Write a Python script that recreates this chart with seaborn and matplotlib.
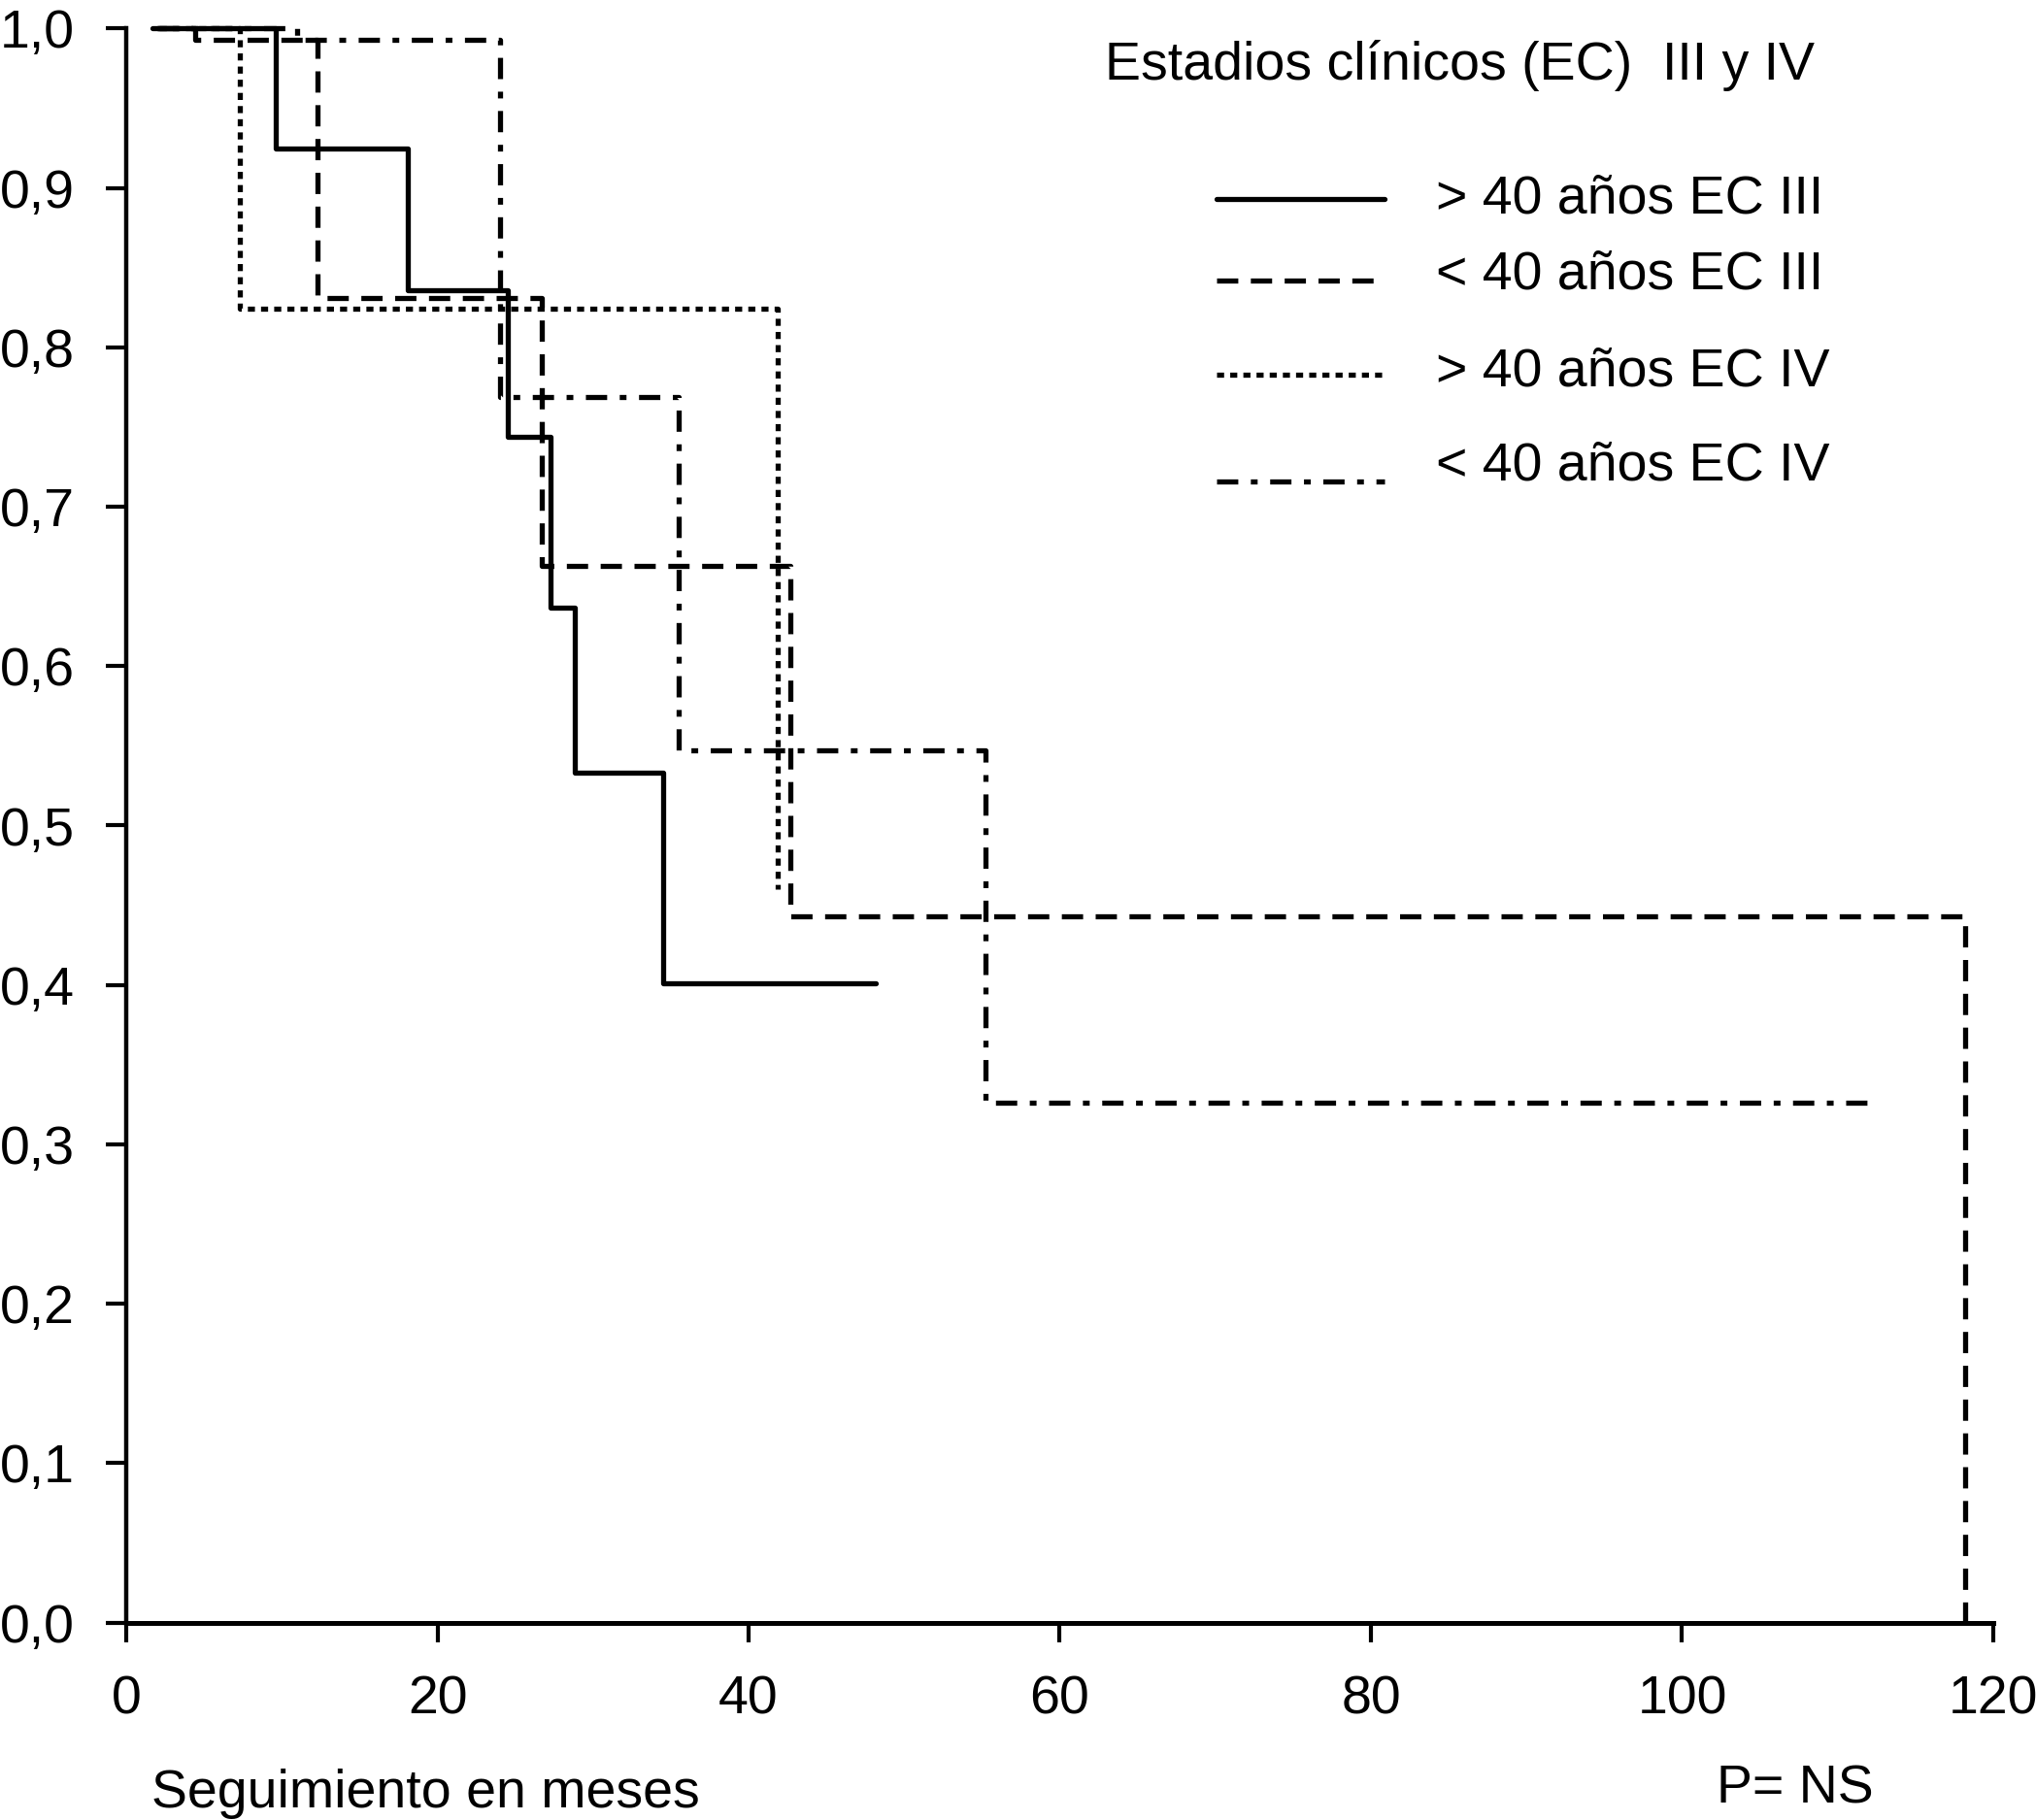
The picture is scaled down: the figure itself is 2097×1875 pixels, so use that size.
import matplotlib
matplotlib.use("Agg")
import matplotlib.pyplot as plt
import seaborn as sns
import pandas as pd

sns.set_theme(style="ticks")
plt.rcParams["font.family"] = ["Liberation Sans", "DejaVu Sans"]
plt.rcParams["text.color"] = "black"
plt.rcParams["axes.labelcolor"] = "black"
plt.rcParams["xtick.color"] = "black"
plt.rcParams["ytick.color"] = "black"

# ---------------- data ----------------
series_labels = ["> 40 años EC III", "< 40 años EC III", "> 40 años EC IV", "< 40 años EC IV"]

t_gt40_iii = [1.7, 9.6, 18.1, 24.5, 27.3, 28.8, 34.5, 48.2]
s_gt40_iii = [1.0, 0.925, 0.836, 0.744, 0.637, 0.533, 0.401, 0.401]

t_lt40_iii = [2.0, 4.4, 12.3, 26.7, 42.7, 118.2]
s_lt40_iii = [1.0, 0.993, 0.831, 0.663, 0.443, 0.0]

t_gt40_iv = [2.1, 7.3, 41.9]
s_gt40_iv = [1.0, 0.824, 0.46]

t_lt40_iv = [2.0, 11.0, 24.0, 35.5, 55.2, 112.1]
s_lt40_iv = [1.0, 0.993, 0.769, 0.547, 0.326, 0.326]

x_ticks = [0, 20, 40, 60, 80, 100, 120]
y_ticks = [0.0, 0.1, 0.2, 0.3, 0.4, 0.5, 0.6, 0.7, 0.8, 0.9, 1.0]
y_tick_labels = ["0,0", "0,1", "0,2", "0,3", "0,4", "0,5", "0,6", "0,7", "0,8", "0,9", "1,0"]

legend_title = "Estadios clínicos (EC)  III y IV"
x_label = "Seguimiento en meses"
p_text = "P= NS"

# ---------------- styles ----------------
LW = 3.8
styles = {
    series_labels[0]: "-",
    series_labels[1]: (0, (4.15, 2.45)),
    series_labels[2]: (0, (1.38, 1.19)),
    series_labels[3]: (0, (4.15, 2.45, 1.32, 2.45)),
}

frames = []
for lab, t, s in zip(series_labels,
                     [t_gt40_iii, t_lt40_iii, t_gt40_iv, t_lt40_iv],
                     [s_gt40_iii, s_lt40_iii, s_gt40_iv, s_lt40_iv]):
    frames.append(pd.DataFrame({"mes": t, "supervivencia": s, "grupo": lab}))
df = pd.concat(frames, ignore_index=True)

fig = plt.figure(figsize=(20.97, 18.75), dpi=100)
ax = fig.add_axes([0.0620, 0.1085, 0.9170, 0.8758])

for lab in series_labels:
    sub = df[df["grupo"] == lab]
    sns.lineplot(data=sub, x="mes", y="supervivencia", ax=ax,
                 drawstyle="steps-post", estimator=None, sort=False,
                 color="black", linewidth=LW, linestyle=styles[lab],
                 legend=False, clip_on=False)

ax.set_xlim(0, 120)
ax.set_ylim(0, 1.0)
ax.set_xticks(x_ticks)
ax.set_xticklabels([str(v) for v in x_ticks])
ax.set_yticks(y_ticks)
ax.set_yticklabels(y_tick_labels)
ax.set_xlabel("")
ax.set_ylabel("")

for side in ["top", "right"]:
    ax.spines[side].set_visible(False)
ax.spines["left"].set_linewidth(3.2)
ax.spines["bottom"].set_linewidth(3.6)
for side in ["left", "bottom"]:
    ax.spines[side].set_color("black")
ax.tick_params(axis="x", direction="out", length=14.5, width=3.0, pad=24,
               labelsize=40, colors="black")
ax.tick_params(axis="y", direction="out", length=15, width=3.0, pad=23.5,
               labelsize=40, colors="black")

# ---------------- legend (manual, as in the original) ----------------
ax.text(62.9, 0.968, legend_title, fontsize=40, ha="left", va="baseline", color="black")
legend_line_y = [0.893, 0.842, 0.783, 0.716]
legend_text_y = [0.884, 0.837, 0.776, 0.717]
legend_line_x_end = [80.9, 80.2, 80.9, 80.9]
for lab, ly, ty, xe in zip(series_labels, legend_line_y, legend_text_y, legend_line_x_end):
    ax.plot([70.1, xe], [ly, ly], color="black", linewidth=LW,
            linestyle=styles[lab], clip_on=False)
    ax.text(84.2, ty, lab, fontsize=40, ha="left", va="baseline", color="black")

fig.text(0.0746, 0.0069, x_label, fontsize=40, ha="left", va="baseline", color="black")
fig.text(0.8430, 0.0096, p_text, fontsize=40, ha="left", va="baseline", color="black")

fig.savefig("out.png", dpi=100, facecolor="white")
